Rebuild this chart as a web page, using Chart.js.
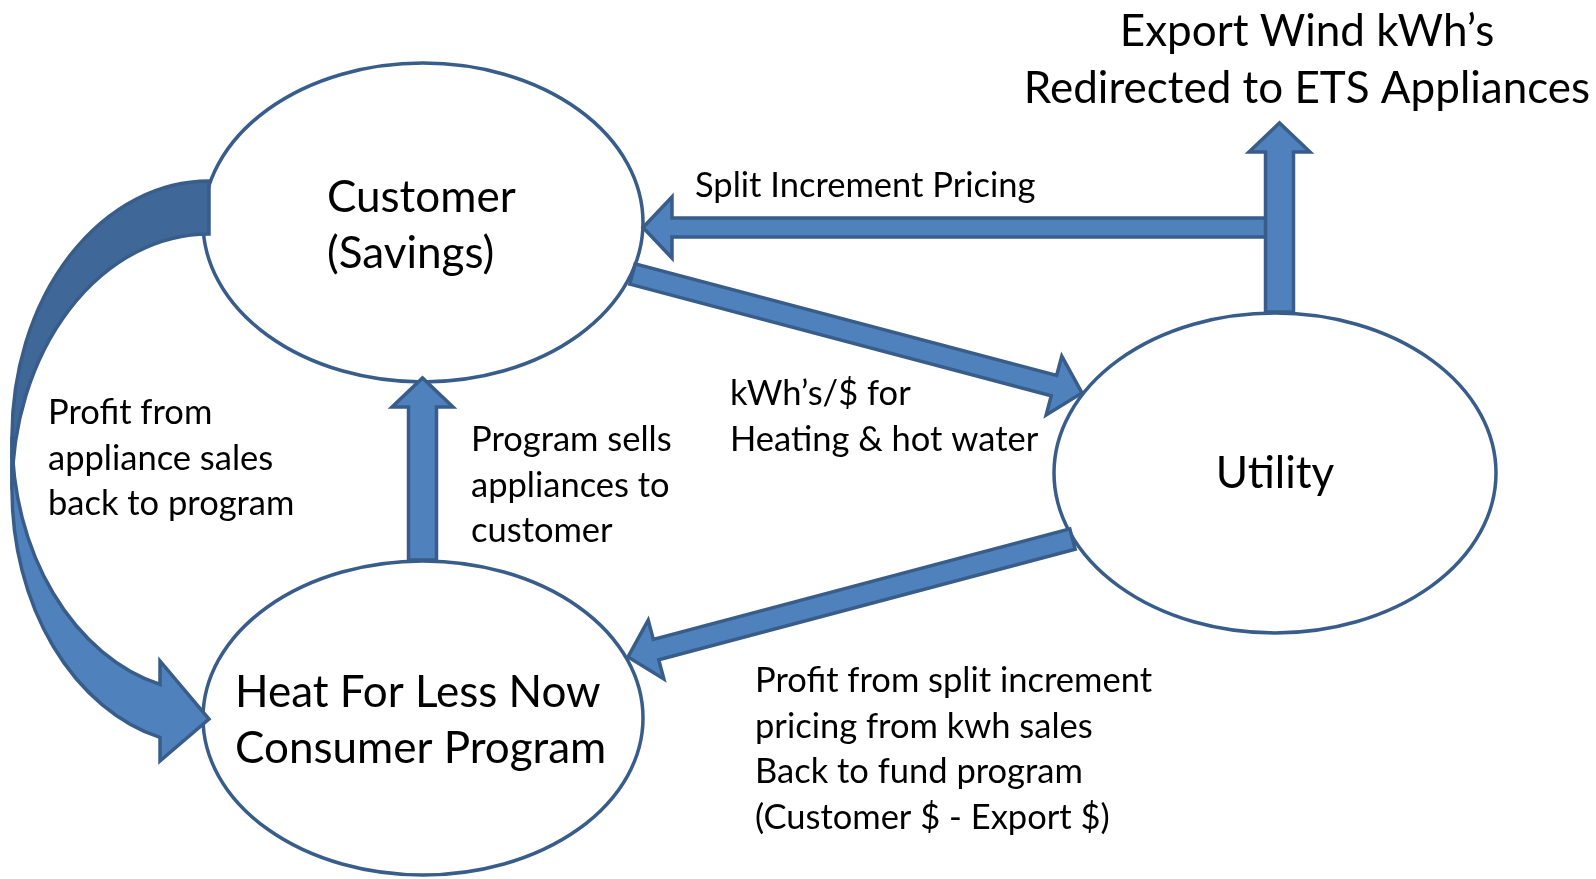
<!DOCTYPE html>
<html>
<head>
<meta charset="utf-8">
<script src="https://cdn.jsdelivr.net/npm/chart.js@4/dist/chart.umd.min.js"></script>
<style>
  html, body { margin: 0; padding: 0; background: #ffffff; overflow: hidden; }
  #flowChart { display: block; }
</style>
</head>
<body>
<canvas id="flowChart" width="1596" height="879"></canvas>
<script>
// diagram nodes (value space of the hidden x/y scales)
const nodeNames = [["Customer", "(Savings)"], ["Heat For Less Now", "Consumer Program"], ["Utility"]];
const nodeX = [423, 423, 1275];
const nodeY = [222.5, 718, 473];
const nodeRX = [220, 220, 221];
const nodeRY = [159.5, 157, 160];

// straight block arrows: from -> to, shaft thickness
const arrowFromX = [1279.5, 1279.5, 632.5, 1072.5, 422.5];
const arrowFromY = [227.5, 312, 274, 539, 560];
const arrowToX = [643, 1279.5, 1082, 628, 422.5];
const arrowToY = [227.5, 123, 393, 657, 378];
const arrowShaft = [19, 28, 21, 21, 28];

// curved arrow on the left (box left, top, right, bottom)
const curveBox = [12, 181, 209, 769];

// free labels
const labelLines = [
  ["Export Wind kWh\u2019s", "Redirected to ETS Appliances"],
  ["Split Increment Pricing"],
  ["kWh\u2019s/$ for", "Heating & hot water"],
  ["Program sells", "appliances to", "customer"],
  ["Profit from", "appliance sales", "back to program"],
  ["Profit from split increment", "pricing from kwh sales", "Back to fund program", "(Customer $ - Export $)"]
];
const labelX = [1307, 695, 730, 471, 48, 755];
const labelY = [46, 197, 405, 451, 424, 692];

const FILL = "#4F81BD", EDGE = "#385D8A", DARK = "#3F6797";
const BIG = "44px Lato, 'Open Sans', sans-serif";
const SMALL = "34.5px Lato, 'Open Sans', sans-serif";

function px(chart, x){ return chart.scales.x.getPixelForValue(x); }
function py(chart, y){ return chart.scales.y.getPixelForValue(y); }

function blockArrow(ctx, x0, y0, x1, y1, shaft, headW, headL){
  const dx = x1-x0, dy = y1-y0, len = Math.hypot(dx, dy);
  const ux = dx/len, uy = dy/len, nx = -uy, ny = ux;
  const bx = x1 - ux*headL, by = y1 - uy*headL;
  const s = shaft/2, h = headW/2;
  ctx.beginPath();
  ctx.moveTo(x0 + nx*s, y0 + ny*s);
  ctx.lineTo(bx + nx*s, by + ny*s);
  ctx.lineTo(bx + nx*h, by + ny*h);
  ctx.lineTo(x1, y1);
  ctx.lineTo(bx - nx*h, by - ny*h);
  ctx.lineTo(bx - nx*s, by - ny*s);
  ctx.lineTo(x0 - nx*s, y0 - ny*s);
  ctx.closePath();
  ctx.fillStyle = FILL; ctx.fill();
  ctx.lineWidth = 3.5; ctx.strokeStyle = EDGE; ctx.lineJoin = "miter"; ctx.stroke();
}

function curvedArrow(chart, ctx){
  const L = px(chart, curveBox[0]), T = py(chart, curveBox[1]);
  const R = px(chart, curveBox[2]), B = py(chart, curveBox[3]);
  const w = R-L, th = 53, aw = 100, ah = 49;
  const hR = (B-T)/2 - (th+aw)/4;
  const c1 = T + hR, c2 = T + hR + th;
  const x1 = R - ah;
  const ang = Math.acos((x1-R)/w);
  const dy = hR*Math.sin(ang);
  const dh = (aw-th)/2;
  // back (darker) part
  ctx.beginPath();
  ctx.moveTo(L, c1);
  ctx.ellipse(R, c1, w, hR, 0, Math.PI, 1.5*Math.PI, false);
  ctx.lineTo(R, T+th);
  ctx.ellipse(R, c2, w, hR, 0, 1.5*Math.PI, Math.PI, true);
  ctx.closePath();
  ctx.fillStyle = DARK; ctx.fill();
  ctx.lineWidth = 3.5; ctx.strokeStyle = EDGE; ctx.stroke();
  // front part with head
  ctx.beginPath();
  ctx.moveTo(L, c1);
  ctx.ellipse(R, c1, w, hR, 0, Math.PI, ang, true);
  ctx.lineTo(x1, c1 + dy - dh);
  ctx.lineTo(R, B - aw/2);
  ctx.lineTo(x1, c2 + dy + dh);
  ctx.lineTo(x1, c2 + dy);
  ctx.ellipse(R, c2, w, hR, 0, ang, Math.PI, false);
  ctx.closePath();
  ctx.fillStyle = FILL; ctx.fill();
  ctx.stroke();
}

const diagramPlugin = {
  id: "diagram",
  afterDatasetsDraw(chart){
    const ctx = chart.ctx;
    ctx.save();
    // nodes
    nodeX.forEach((x, i) => {
      const cx = px(chart, x), cy = py(chart, nodeY[i]);
      const rx = px(chart, x + nodeRX[i]) - cx, ry = py(chart, nodeY[i] + nodeRY[i]) - cy;
      ctx.beginPath();
      ctx.ellipse(cx, cy, Math.abs(rx), Math.abs(ry), 0, 0, 2*Math.PI);
      ctx.fillStyle = "#ffffff"; ctx.fill();
      ctx.lineWidth = 3.5; ctx.strokeStyle = EDGE; ctx.stroke();
    });
    curvedArrow(chart, ctx);
    arrowFromX.forEach((x, i) => {
      blockArrow(ctx, px(chart, x), py(chart, arrowFromY[i]), px(chart, arrowToX[i]), py(chart, arrowToY[i]), arrowShaft[i], 61, 29);
    });
    // node captions
    ctx.fillStyle = "#000000";
    ctx.font = BIG;
    ctx.textBaseline = "alphabetic";
    ctx.textAlign = "left";
    ctx.fillText(nodeNames[0][0], px(chart, 327), py(chart, 212));
    ctx.fillText(nodeNames[0][1], px(chart, 327), py(chart, 268));
    ctx.fillText(nodeNames[1][0], px(chart, 235), py(chart, 707));
    ctx.fillText(nodeNames[1][1], px(chart, 235), py(chart, 763));
    ctx.textAlign = "center";
    ctx.fillText(nodeNames[2][0], px(chart, nodeX[2]), py(chart, 488));
    // labels
    labelLines.forEach((lines, i) => {
      ctx.font = i === 0 ? BIG : SMALL;
      ctx.textAlign = i === 0 ? "center" : "left";
      const step = i === 0 ? 57 : 45.5;
      lines.forEach((t, j) => ctx.fillText(t, px(chart, labelX[i]), py(chart, labelY[i] + j*step)));
    });
    ctx.restore();
  }
};

new Chart(document.getElementById("flowChart"), {
  type: "scatter",
  data: {
    datasets: [{
      label: "nodes",
      data: nodeX.map((x, i) => ({x: x, y: nodeY[i]})),
      pointRadius: 0
    }]
  },
  options: {
    responsive: false,
    animation: false,
    devicePixelRatio: 1,
    layout: { padding: 0 },
    plugins: { legend: { display: false }, tooltip: { enabled: false } },
    events: [],
    scales: {
      x: { type: "linear", min: 0, max: 1596, display: false },
      y: { type: "linear", min: 0, max: 879, reverse: true, display: false }
    }
  },
  plugins: [diagramPlugin]
});
</script>
</body>
</html>
